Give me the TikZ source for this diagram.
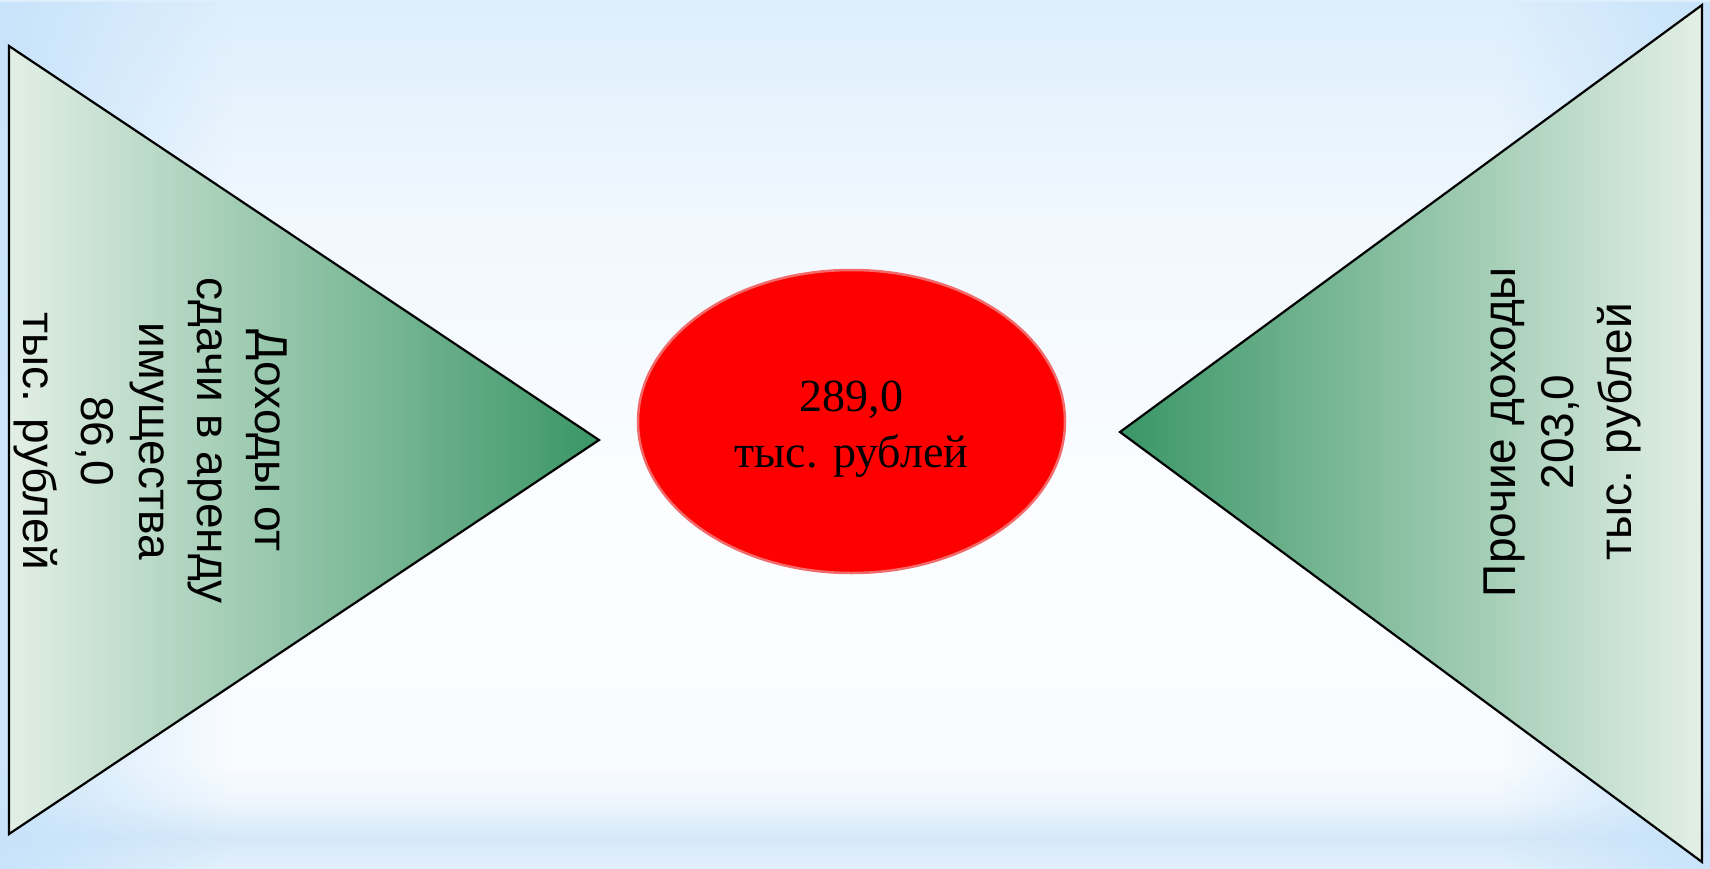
\documentclass[tikz,border=0pt]{standalone}
\usepackage{fontspec}
\setmainfont{Liberation Serif}
\newfontfamily\sansf{Liberation Sans}
\usetikzlibrary{fadings,shapes.geometric}
\definecolor{gdark}{HTML}{3A9666}
\definecolor{glight}{HTML}{E3EFE6}
\definecolor{bgblue}{HTML}{C4E1FA}
\definecolor{bgA}{HTML}{E2F0FB}
\definecolor{bgB}{HTML}{D6E9F9}
\definecolor{bgC}{HTML}{EEF6FD}
\definecolor{bgD}{HTML}{F9FCFF}
\definecolor{bgE}{HTML}{FCFDFF}
\definecolor{bgF}{HTML}{F1F8FE}
\definecolor{bgG}{HTML}{DDEEFC}
\definecolor{rimred}{HTML}{F26A6A}
\pgfdeclareverticalshading{bgv}{100bp}{%
  color(0bp)=(bgA); color(25bp)=(bgA); color(26.8bp)=(bgB); color(28.8bp)=(bgC);
  color(31bp)=(bgD); color(33.5bp)=(bgD); color(45bp)=(bgE); color(62bp)=(bgF);
  color(75bp)=(bgG); color(100bp)=(bgG)}
\tikzfading[name=fadeR, left color=transparent!15, right color=transparent!100]
\tikzfading[name=fadeL, left color=transparent!100, right color=transparent!15]
\tikzset{
  tri/.style={draw=black, line width=2.2pt, line join=miter},
  tritext/.style={font=\sansf\fontsize{46}{58}\selectfont, align=center, text=black, inner sep=0pt},
  valtext/.style={font=\fontsize{46}{56}\selectfont, align=center, text=black, inner sep=0pt},
  oval/.style={ellipse, fill=red, draw=rimred, line width=2.5pt, minimum width=427pt, minimum height=303pt, inner sep=0pt}
}
\begin{document}
\begin{tikzpicture}[x=1pt,y=-1pt]
\useasboundingbox (0,0) rectangle (1710,868);
% background
\shade[shading=bgv] (0,0) rectangle (1710,868);
\fill[bgblue, path fading=fadeR] (0,0) rectangle (230,868);
\fill[bgblue, path fading=fadeL] (1500,0) rectangle (1710,868);
% left triangle
\coordinate (lt) at (9,46);
\coordinate (lb) at (9,834);
\coordinate (la) at (599,440);
\path[tri, left color=glight, middle color=gdark!35!glight, right color=gdark] (lt) -- (lb) -- (la) -- cycle;
% right triangle
\coordinate (rt) at (1702,5);
\coordinate (rb) at (1702,862);
\coordinate (ra) at (1120,432);
\path[tri, left color=gdark, middle color=gdark!35!glight, right color=glight] (rt) -- (rb) -- (ra) -- cycle;
% ellipse
\node[oval] (e) at (851.5,421.5) {};
\node[valtext] (t) at (851.5,429) {289,0\\тыс. рублей};
% texts
\node[tritext, rotate=-90] (lbl) at (151,441) {Доходы от\\сдачи в аренду\\имущества\\86,0\\тыс. рублей};
\node[tritext, rotate=90] (rbl) at (1562,432) {Прочие доходы\\203,0\\тыс. рублей};
\end{tikzpicture}
\end{document}
